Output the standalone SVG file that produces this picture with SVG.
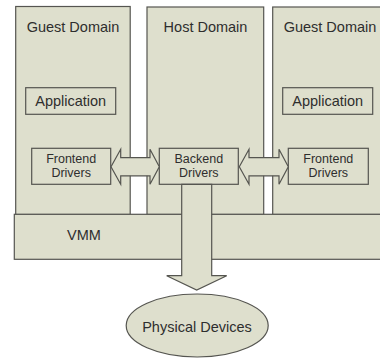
<svg xmlns="http://www.w3.org/2000/svg" width="380" height="358" viewBox="0 0 380 358">
  <style>
    .box { fill: #dedfcd; stroke: #555550; stroke-width: 1.2; }
    .lbl { font-family: "Liberation Sans", Arial, sans-serif; fill: #2e2e2e; text-anchor: middle; }
    .big { font-size: 14.5px; }
    .small { font-size: 12.5px; }
  </style>
  <rect width="380" height="358" fill="#ffffff"/>

  <!-- domains -->
  <g id="guest-left">
    <rect class="box" x="15.7" y="6.5" width="114.5" height="208"/>
    <text class="lbl big" x="73" y="32">Guest Domain</text>
  </g>
  <g id="host">
    <rect class="box" x="147" y="7" width="116.7" height="207.5"/>
    <text class="lbl big" x="205.5" y="32">Host Domain</text>
  </g>
  <g id="guest-right">
    <rect class="box" x="272.7" y="7" width="112" height="207.5"/>
    <text class="lbl big" x="330" y="32">Guest Domain</text>
  </g>

  <!-- hypervisor layer -->
  <g id="vmm">
    <rect class="box" x="14.3" y="214.3" width="370" height="45"/>
    <text class="lbl big" x="84" y="240">VMM</text>
  </g>

  <!-- applications -->
  <g id="app-left">
    <rect class="box" x="25.7" y="87.7" width="90" height="26.6"/>
    <text class="lbl big" x="70.7" y="105.5">Application</text>
  </g>
  <g id="app-right">
    <rect class="box" x="282.7" y="87.7" width="90" height="26.6"/>
    <text class="lbl big" x="327.7" y="105.5">Application</text>
  </g>

  <!-- drivers -->
  <g id="frontend-left">
    <rect class="box" x="31.7" y="148.3" width="79" height="36"/>
    <text class="lbl small" x="71.2" y="162.5">Frontend</text>
    <text class="lbl small" x="71.2" y="177">Drivers</text>
  </g>
  <g id="backend">
    <rect class="box" x="159.3" y="148.3" width="79" height="36"/>
    <text class="lbl small" x="198.8" y="162.5">Backend</text>
    <text class="lbl small" x="198.8" y="177">Drivers</text>
  </g>
  <g id="frontend-right">
    <rect class="box" x="288.3" y="148.3" width="80" height="36"/>
    <text class="lbl small" x="328.3" y="162.5">Frontend</text>
    <text class="lbl small" x="328.3" y="177">Drivers</text>
  </g>

  <!-- connectors -->
  <g id="connectors">
    <polygon class="box" points="111,166.8 120.7,149.3 120.7,157.6 150,157.6 150,149.3 159.3,166.8 150,184.3 150,175.8 120.7,175.8 120.7,184.3"/>
    <polygon class="box" points="239.3,166.8 249,149.3 249,157.6 279,157.6 279,149.3 288.3,166.8 279,184.3 279,175.8 249,175.8 249,184.3"/>
    <polygon class="box" points="181.7,184.3 211.7,184.3 211.7,275.7 226.7,275.7 196.7,290 166.7,275.7 181.7,275.7"/>
  </g>

  <!-- hardware -->
  <g id="physical-devices">
    <ellipse class="box" cx="197.2" cy="325.5" rx="71" ry="31.5"/>
    <text class="lbl big" x="197" y="331.5">Physical Devices</text>
  </g>
</svg>
